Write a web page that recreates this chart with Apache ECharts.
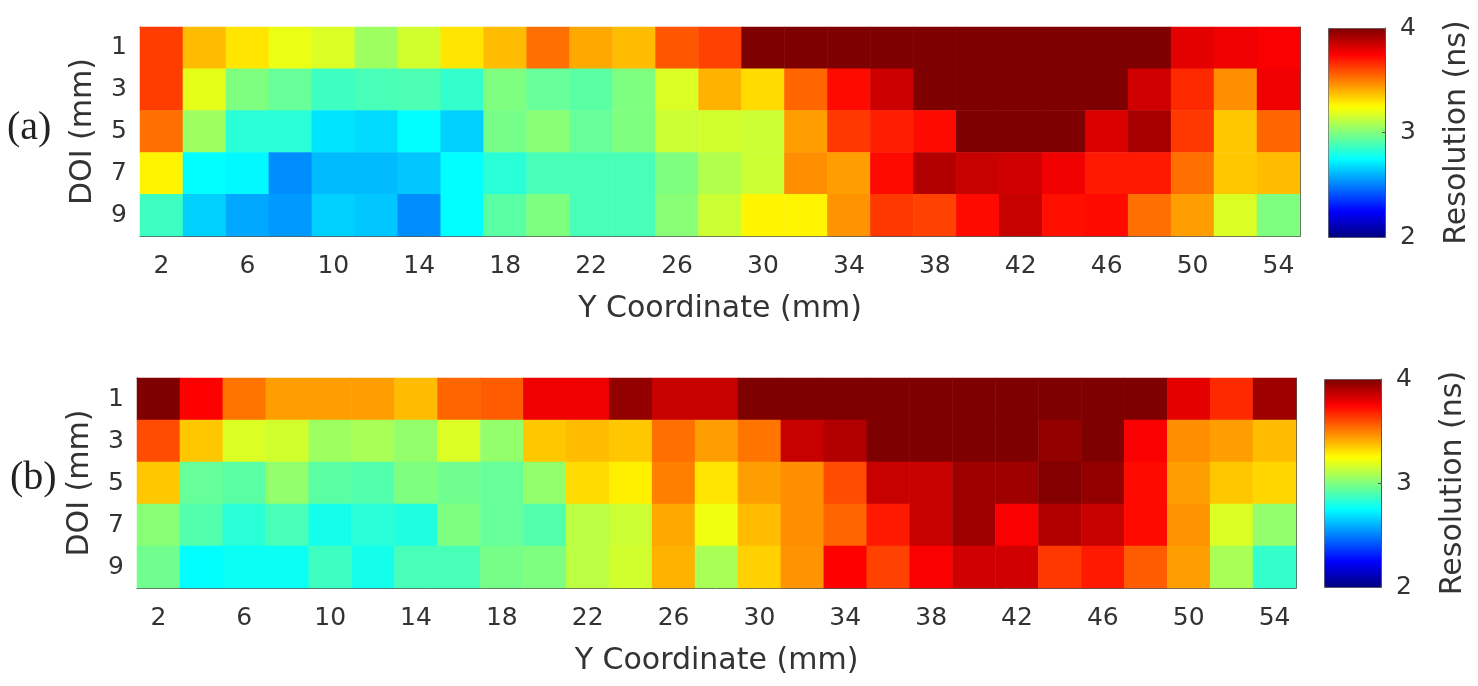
<!DOCTYPE html>
<html>
<head>
<meta charset="utf-8">
<script src="https://cdn.jsdelivr.net/npm/echarts@6/dist/echarts.min.js"></script>
<style>
html, body { margin: 0; padding: 0; background: #fff; }
#chart { width: 1478px; height: 686px; }
</style>
</head>
<body>
<div id="chart"></div>
<script>
// column positions (mm) and DOI rows (mm)
const yCoords = ['2', '4', '6', '8', '10', '12', '14', '16', '18', '20', '22', '24', '26', '28',
  '30', '32', '34', '36', '38', '40', '42', '44', '46', '48', '50', '52', '54'];
const doiRows = ['1', '3', '5', '7', '9'];
const resMin = 2;
const resMax = 4;

// (a) resolution in ns, one array per DOI row
const resA1 = [3.63, 3.38, 3.30, 3.21, 3.18, 3.06, 3.16, 3.30, 3.38, 3.53, 3.42, 3.38, 3.58, 3.62,
  4.0, 4.0, 4.0, 4.0, 4.0, 4.0, 4.0, 4.0, 4.0, 4.0, 3.80, 3.78, 3.76];
const resA3 = [3.63, 3.20, 3.00, 2.95, 2.87, 2.89, 2.90, 2.85, 3.00, 2.95, 2.93, 3.00, 3.18, 3.40,
  3.32, 3.55, 3.73, 3.85, 4.0, 4.0, 4.0, 4.0, 4.0, 3.84, 3.67, 3.47, 3.78];
const resA5 = [3.53, 3.06, 2.83, 2.83, 2.70, 2.68, 2.75, 2.66, 2.98, 3.02, 2.95, 3.00, 3.15, 3.16,
  3.15, 3.44, 3.64, 3.69, 3.73, 4.0, 4.0, 4.0, 3.82, 3.92, 3.64, 3.36, 3.55];
const resA7 = [3.27, 2.75, 2.74, 2.53, 2.62, 2.62, 2.64, 2.75, 2.83, 2.89, 2.89, 2.89, 3.00, 3.10,
  3.15, 3.47, 3.44, 3.73, 3.90, 3.86, 3.84, 3.78, 3.70, 3.70, 3.53, 3.36, 3.38];
const resA9 = [2.87, 2.66, 2.58, 2.55, 2.66, 2.64, 2.53, 2.75, 2.93, 3.00, 2.89, 2.89, 3.02, 3.15,
  3.27, 3.27, 3.46, 3.64, 3.62, 3.73, 3.86, 3.72, 3.73, 3.53, 3.44, 3.18, 3.00];

// (b)
const resB1 = [4.0, 3.75, 3.52, 3.44, 3.44, 3.44, 3.38, 3.55, 3.57, 3.78, 3.78, 3.96, 3.86, 3.86,
  4.0, 4.0, 4.0, 4.0, 4.0, 4.0, 4.0, 4.0, 4.0, 4.0, 3.80, 3.67, 3.94];
const resB3 = [3.60, 3.36, 3.18, 3.16, 3.06, 3.08, 3.04, 3.18, 3.04, 3.36, 3.38, 3.36, 3.53, 3.44,
  3.52, 3.86, 3.90, 4.0, 4.0, 4.0, 4.0, 3.96, 4.0, 3.76, 3.47, 3.44, 3.38];
const resB5 = [3.36, 2.95, 2.93, 3.04, 2.93, 2.91, 3.00, 2.97, 2.95, 3.04, 3.32, 3.28, 3.50, 3.30,
  3.44, 3.47, 3.60, 3.86, 3.86, 3.94, 3.94, 3.99, 3.96, 3.73, 3.44, 3.36, 3.33];
const resB7 = [3.02, 2.91, 2.83, 2.89, 2.79, 2.83, 2.81, 3.00, 2.95, 2.91, 3.12, 3.15, 3.42, 3.22,
  3.38, 3.47, 3.55, 3.70, 3.86, 3.94, 3.76, 3.90, 3.86, 3.73, 3.46, 3.18, 3.04];
const resB9 = [2.97, 2.75, 2.77, 2.77, 2.87, 2.79, 2.89, 2.89, 2.98, 3.00, 3.12, 3.16, 3.40, 3.08,
  3.34, 3.46, 3.75, 3.62, 3.76, 3.84, 3.84, 3.64, 3.70, 3.57, 3.44, 3.08, 2.85];

const jet = ['#00007f', '#0000ff', '#007fff', '#00ffff', '#7fff7f', '#ffff00', '#ff7f00', '#ff0000', '#7f0000'];
const font = 'DejaVu Sans';
const textColor = '#333';
const axisColor = '#555';

function toCells(rows) {
  const out = [];
  rows.forEach((row, r) => {
    row.forEach((v, c) => out.push([c, r, v]));
  });
  return out;
}

function xBottom(grid) {
  return {
    type: 'category', gridIndex: grid, data: yCoords, position: 'bottom',
    axisLine: { lineStyle: { color: axisColor } },
    axisTick: { inside: true, alignWithLabel: true, interval: 1, length: 6, lineStyle: { color: axisColor } },
    axisLabel: { interval: 1, margin: 18, color: textColor, fontSize: 25, fontFamily: font },
    splitLine: { show: false },
    name: 'Y Coordinate (mm)', nameLocation: 'middle', nameGap: 58,
    nameTextStyle: { color: textColor, fontSize: 30, fontFamily: font }
  };
}
function xTop(grid) {
  return {
    type: 'category', gridIndex: grid, data: yCoords, position: 'top',
    axisLine: { lineStyle: { color: axisColor } },
    axisTick: { inside: true, alignWithLabel: true, interval: 1, length: 6, lineStyle: { color: axisColor } },
    axisLabel: { show: false }, splitLine: { show: false }
  };
}
function yLeft(grid) {
  return {
    type: 'category', gridIndex: grid, data: doiRows, inverse: true, position: 'left',
    axisLine: { lineStyle: { color: axisColor } },
    axisTick: { inside: true, alignWithLabel: true, length: 6, lineStyle: { color: axisColor } },
    axisLabel: { margin: 13, color: textColor, fontSize: 25, fontFamily: font },
    splitLine: { show: false },
    name: 'DOI (mm)', nameLocation: 'middle', nameGap: 42, nameRotate: 90,
    nameTextStyle: { color: textColor, fontSize: 30, fontFamily: font }
  };
}
function yRight(grid) {
  return {
    type: 'category', gridIndex: grid, data: doiRows, inverse: true, position: 'right',
    axisLine: { lineStyle: { color: axisColor } },
    axisTick: { inside: true, alignWithLabel: true, length: 6, lineStyle: { color: axisColor } },
    axisLabel: { show: false }, splitLine: { show: false }
  };
}
function barAxis(grid) {
  return {
    type: 'value', gridIndex: grid, min: resMin, max: resMax, interval: 1, position: 'right', z: 10,
    axisLine: { show: true, onZero: false, lineStyle: { color: axisColor } },
    axisTick: { show: true, inside: true, length: 3, lineStyle: { color: axisColor } },
    axisLabel: { margin: 15, color: textColor, fontSize: 25, fontFamily: font },
    splitLine: { show: false },
    name: 'Resolution (ns)', nameLocation: 'middle', nameGap: 57, nameRotate: 90,
    nameTextStyle: { color: textColor, fontSize: 30, fontFamily: font }
  };
}
function colorBar(series, left, top, height) {
  return {
    type: 'continuous', seriesIndex: series, min: resMin, max: resMax,
    calculable: false, hoverLink: false, inRange: { color: jet },
    left: left, top: top, itemWidth: 57, itemHeight: height,
    padding: 0, borderWidth: 1, borderColor: axisColor
  };
}

const chart = echarts.init(document.getElementById('chart'));
chart.setOption({
  animation: false,
  title: [
    { text: '(a)', left: 7, top: 108, padding: 0,
      textStyle: { fontFamily: 'Liberation Serif', fontSize: 40, fontWeight: 'normal', color: '#222' } },
    { text: '(b)', left: 10, top: 458, padding: 0,
      textStyle: { fontFamily: 'Liberation Serif', fontSize: 40, fontWeight: 'normal', color: '#222' } }
  ],
  grid: [
    { left: 140, top: 27, width: 1160, height: 209 },
    { left: 137, top: 378, width: 1159, height: 210 },
    { left: 1328, top: 28, width: 57, height: 209 },
    { left: 1324, top: 379, width: 57, height: 208 }
  ],
  xAxis: [xBottom(0), xTop(0), xBottom(1), xTop(1),
    { type: 'value', gridIndex: 2, show: false, min: 0, max: 1 },
    { type: 'value', gridIndex: 3, show: false, min: 0, max: 1 }],
  yAxis: [yLeft(0), yRight(0), yLeft(1), yRight(1), barAxis(2), barAxis(3)],
  visualMap: [colorBar(0, 1328, 28, 209), colorBar(1, 1324, 379, 208)],
  series: [
    { type: 'heatmap', xAxisIndex: 0, yAxisIndex: 0, data: toCells([resA1, resA3, resA5, resA7, resA9]),
      emphasis: { disabled: true } },
    { type: 'heatmap', xAxisIndex: 2, yAxisIndex: 2, data: toCells([resB1, resB3, resB5, resB7, resB9]),
      emphasis: { disabled: true } }
  ]
});
</script>
</body>
</html>
